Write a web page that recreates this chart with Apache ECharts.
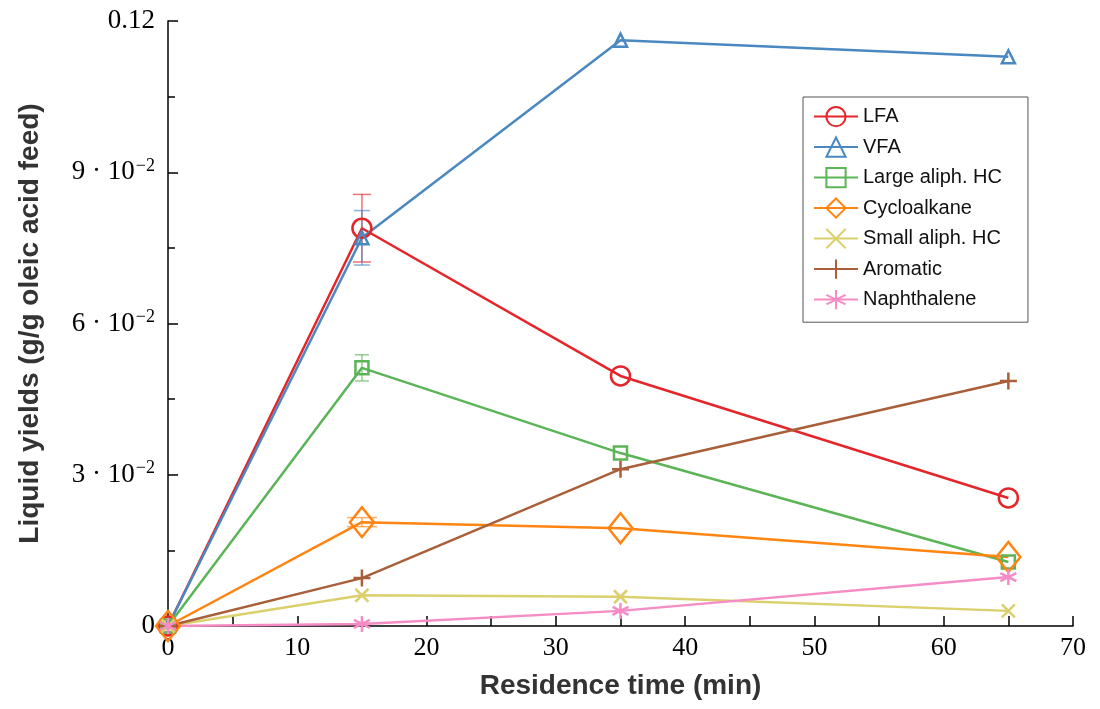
<!DOCTYPE html>
<html>
<head>
<meta charset="utf-8">
<script src="https://cdn.jsdelivr.net/npm/echarts@6/dist/echarts.min.js"></script>
<style>
  html, body { margin: 0; padding: 0; background: #fff; }
  #chart { width: 1100px; height: 709px; }
</style>
</head>
<body>
<div id="chart"></div>
<script>
// Residence times (min)
const times = [0, 15, 35, 65];

// Liquid product yields (g/g oleic acid feed)
const lfa         = [0, 0.0789, 0.0496, 0.0254];
const vfa         = [0, 0.0770, 0.1162, 0.1129];
const largeAliph  = [0, 0.0512, 0.0343, 0.0127];
const cycloalkane = [0, 0.0206, 0.0194, 0.0137];
const smallAliph  = [0, 0.0061, 0.0058, 0.0030];
const aromatic    = [0, 0.0095, 0.0311, 0.0486];
const naphthalene = [0, 0.0004, 0.0030, 0.0097];

// Standard deviations (only measured at 15 min)
const lfaErr        = [0, 0.0067, 0, 0];
const vfaErr        = [0, 0.0054, 0, 0];
const largeAliphErr = [0, 0.0026, 0, 0];
const cycloErr      = [0, 0.0009, 0, 0];

const seriesNames = ['LFA', 'VFA', 'Large aliph. HC', 'Cycloalkane', 'Small aliph. HC', 'Aromatic', 'Naphthalene'];

const SYM_X = 'path://M0,0L10,10M10,0L0,10';
const SYM_PLUS = 'path://M5,0L5,10M0,5L10,5';
const SYM_STAR = 'path://M5,0L5,10M0.7,2.5L9.3,7.5M9.3,2.5L0.7,7.5';

function pairs(vals) { return times.map((t, i) => [t, vals[i]]); }

function lineSeries(name, vals, color, symbol, size) {
  return {
    name: name,
    type: 'line',
    data: pairs(vals),
    symbol: symbol,
    symbolSize: size,
    showAllSymbol: true,
    z: 3,
    lineStyle: { color: color, width: 2.5 },
    itemStyle: { color: 'transparent', borderColor: color, borderWidth: 2.5 },
    emphasis: { disabled: true }
  };
}

function errorSeries(vals, errs, color, cap) {
  const data = [];
  times.forEach((t, i) => { if (errs[i] > 0) data.push([t, vals[i] - errs[i], vals[i] + errs[i]]); });
  return {
    type: 'custom',
    z: 2,
    silent: true,
    data: data,
    encode: { x: 0, y: [1, 2] },
    renderItem: function (params, api) {
      const lo = api.coord([api.value(0), api.value(1)]);
      const hi = api.coord([api.value(0), api.value(2)]);
      const style = { stroke: color, lineWidth: 1.5, opacity: 0.65 };
      return {
        type: 'group',
        children: [
          { type: 'line', shape: { x1: lo[0], y1: lo[1], x2: hi[0], y2: hi[1] }, style: style },
          { type: 'line', shape: { x1: lo[0] - cap / 2, y1: lo[1], x2: lo[0] + cap / 2, y2: lo[1] }, style: style },
          { type: 'line', shape: { x1: hi[0] - cap / 2, y1: hi[1], x2: hi[0] + cap / 2, y2: hi[1] }, style: style }
        ]
      };
    }
  };
}

const C = {
  lfa: '#e4262b', vfa: '#4a88c2', large: '#5bb557', cyclo: '#ff8411',
  small: '#dbd06c', arom: '#a9603a', naph: '#f58cc5'
};

const serif = 'Liberation Serif';
const sans = 'Liberation Sans';

const chart = echarts.init(document.getElementById('chart'));
chart.setOption({
  animation: false,
  backgroundColor: '#fff',
  grid: { left: 168, right: 27, top: 21, bottom: 83 },
  legend: {
    data: seriesNames,
    orient: 'vertical',
    left: 803,
    top: 97,
    itemWidth: 44,
    itemHeight: 24,
    itemGap: 9.3,
    padding: [9, 26, 12, 10],
    borderColor: '#555',
    borderWidth: 1,
    backgroundColor: '#fff',
    textStyle: { fontFamily: sans, fontSize: 20, color: '#111' },
    selectedMode: false
  },
  xAxis: {
    type: 'value',
    min: 0, max: 70, interval: 10,
    name: 'Residence time (min)',
    nameLocation: 'middle',
    nameGap: 46,
    nameTextStyle: { fontFamily: sans, fontWeight: 'bold', fontSize: 28, color: '#333' },
    axisLine: { lineStyle: { color: '#000', width: 1.5 } },
    axisTick: { inside: true, length: 10, lineStyle: { color: '#000', width: 1.5 } },
    minorTick: { show: true, splitNumber: 2, length: 10, lineStyle: { color: '#000', width: 1.5 } },
    axisLabel: { fontFamily: serif, fontSize: 26, color: '#000', margin: 9 },
    splitLine: { show: false }
  },
  yAxis: {
    type: 'value',
    min: 0, max: 0.12, interval: 0.03,
    name: 'Liquid yields (g/g oleic acid feed)',
    nameLocation: 'middle',
    nameGap: 124,
    nameTextStyle: { fontFamily: sans, fontWeight: 'bold', fontSize: 28, color: '#333' },
    axisLine: { show: true, lineStyle: { color: '#000', width: 1.5 } },
    axisTick: { inside: true, length: 10, lineStyle: { color: '#000', width: 1.5 } },
    minorTick: { show: true, splitNumber: 2, length: 7, lineStyle: { color: '#000', width: 1.5 } },
    axisLabel: {
      margin: 13,
      color: '#000',
      fontFamily: serif,
      fontSize: 27,
      formatter: function (v) {
        if (v === 0) return '0';
        if (Math.abs(v - 0.12) < 1e-9) return '0.12';
        return '{n|' + Math.round(v * 100) + ' · 10}{s|−2}';
      },
      rich: {
        n: { fontFamily: serif, fontSize: 27, color: '#000' },
        s: { fontFamily: serif, fontSize: 18, color: '#000', verticalAlign: 'top', padding: [0, 0, 12, 1] }
      }
    },
    splitLine: { show: false }
  },
  series: [
    errorSeries(lfa, lfaErr, C.lfa, 18),
    errorSeries(vfa, vfaErr, C.vfa, 16),
    errorSeries(largeAliph, largeAliphErr, C.large, 14),
    errorSeries(cycloalkane, cycloErr, C.cyclo, 30),
    lineSeries('LFA', lfa, C.lfa, 'circle', 19),
    lineSeries('VFA', vfa, C.vfa, 'triangle', 13),
    lineSeries('Large aliph. HC', largeAliph, C.large, 'rect', 13),
    lineSeries('Cycloalkane', cycloalkane, C.cyclo, 'diamond', [24, 30]),
    lineSeries('Small aliph. HC', smallAliph, C.small, SYM_X, 13),
    lineSeries('Aromatic', aromatic, C.arom, SYM_PLUS, 17),
    lineSeries('Naphthalene', naphthalene, C.naph, SYM_STAR, 16)
  ]
});
</script>
</body>
</html>
